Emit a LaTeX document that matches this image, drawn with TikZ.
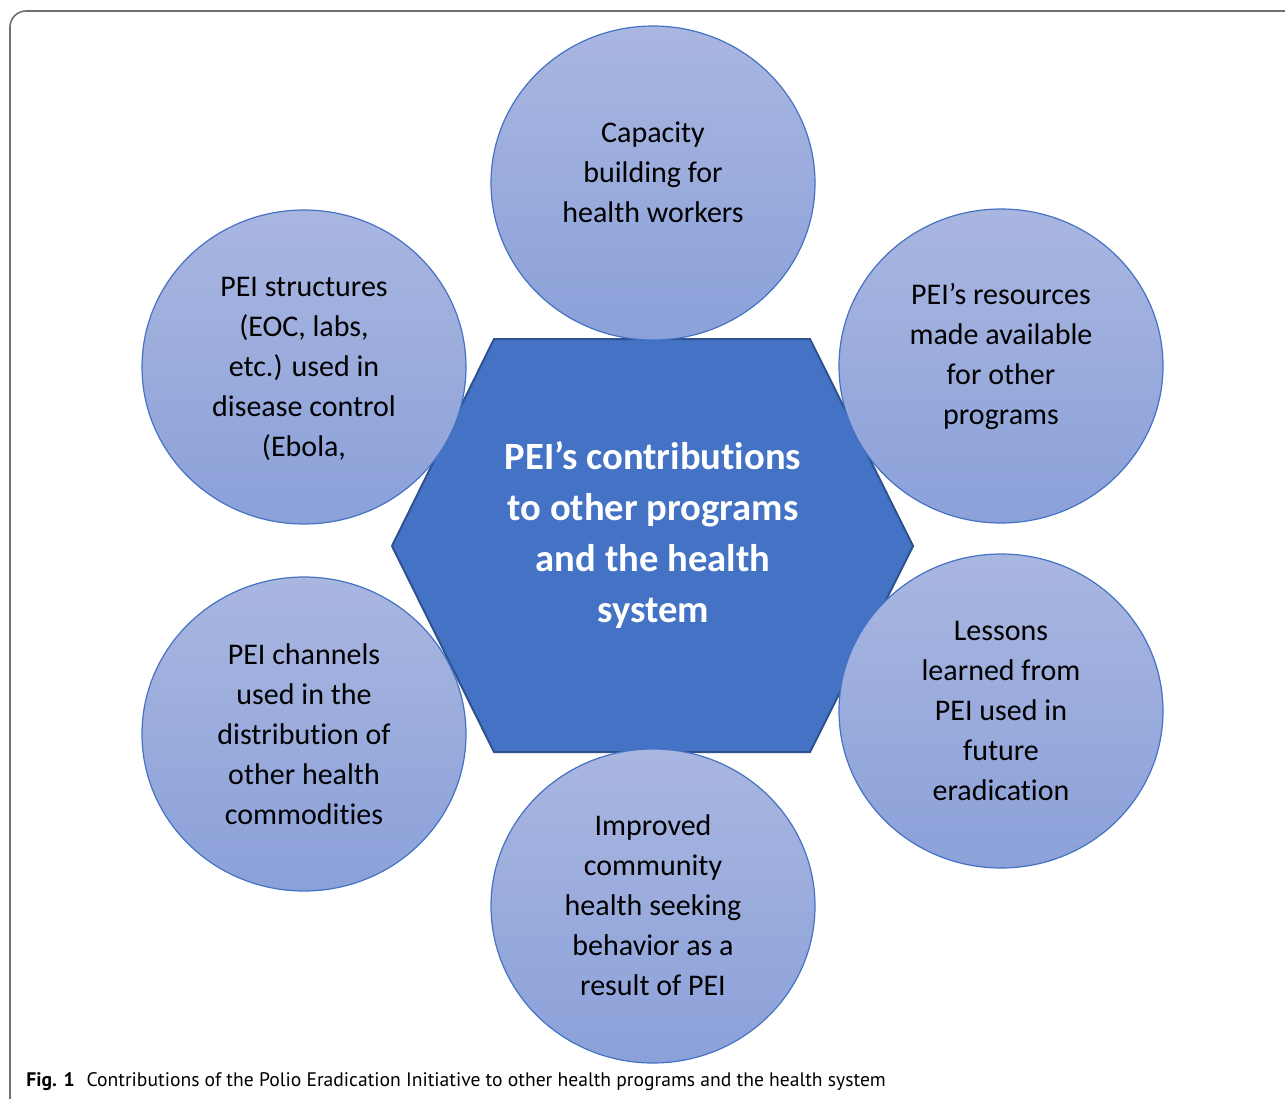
\documentclass[tikz,border=0pt]{standalone}
\usepackage{fontspec}
\setmainfont{Carlito}[Ligatures=NoCommon]
\newfontfamily\capfont{PT Sans}
\usetikzlibrary{shapes.geometric}
\usetikzlibrary{calc}

\definecolor{hexblue}{HTML}{4472C4}
\definecolor{hexedge}{HTML}{2F528F}
\definecolor{bubtop}{HTML}{A9B6E0}
\definecolor{bubbot}{HTML}{8BA1D9}
\definecolor{frame}{HTML}{707070}

\tikzset{
  bubble/.style={ellipse, draw=hexblue, line width=0.6pt, top color=bubtop,
    bottom color=bubbot, minimum width=162pt, minimum height=157pt, inner sep=0pt},
  bubtext/.style={align=center, font=\fontsize{15}{20}\selectfont, text=black},
  hubtext/.style={align=center, font=\fontsize{19.3}{25.5}\selectfont\bfseries, text=white}
}

\begin{document}
\begin{tikzpicture}[x=0.5pt,y=-0.5pt]
  \useasboundingbox (0,0) rectangle (1285,1098);
  % outer frame
  \draw[frame, line width=0.8pt, rounded corners=8pt] (10,1130) -- (10,11) -- (1320,11);
  % central hexagon
  \draw[fill=hexblue, draw=hexedge, line width=1pt]
    (392,546) -- (494,339) -- (810,339) -- (913,546) -- (810,752) -- (494,752) -- cycle;
  \node[hubtext] (hub) at (653,535) {PEI’s contributions\\to other programs\\and the health\\system};
  % surrounding circles
  \node[bubble] (cap) at (653,183) {};
  \node[bubble] (struct) at (304,367) {};
  \node[bubble] (res) at (1001,366) {};
  \node[bubble] (chan) at (304,734) {};
  \node[bubble] (less) at (1001,711) {};
  \node[bubble] (comm) at (653,906) {};
  % labels
  \node[bubtext] at ($(cap)+(0,-11)$) {Capacity\\building for\\health workers};
  \node[bubtext] at ($(struct)+(0,2)$) {PEI structures\\(EOC, labs,\\etc.) used in\\disease control\\(Ebola,};
  \node[bubtext] at ($(res)+(0,-10)$) {PEI’s resources\\made available\\for other\\programs};
  \node[bubtext] at (chan) {PEI channels\\used in the\\distribution of\\other health\\commodities};
  \node[bubtext] at (less) {Lessons\\learned from\\PEI used in\\future\\eradication};
  \node[bubtext] at ($(comm)+(0,-1)$) {Improved\\community\\health seeking\\behavior as a\\result of PEI};
  % caption
  \node[anchor=west, inner sep=0pt, font=\capfont\fontsize{9.8}{12}\selectfont] (cap-text) at (26,1082)
    {\textbf{Fig. 1}\hspace{6pt}Contributions of the Polio Eradication Initiative to other health programs and the health system};
\end{tikzpicture}
\end{document}
